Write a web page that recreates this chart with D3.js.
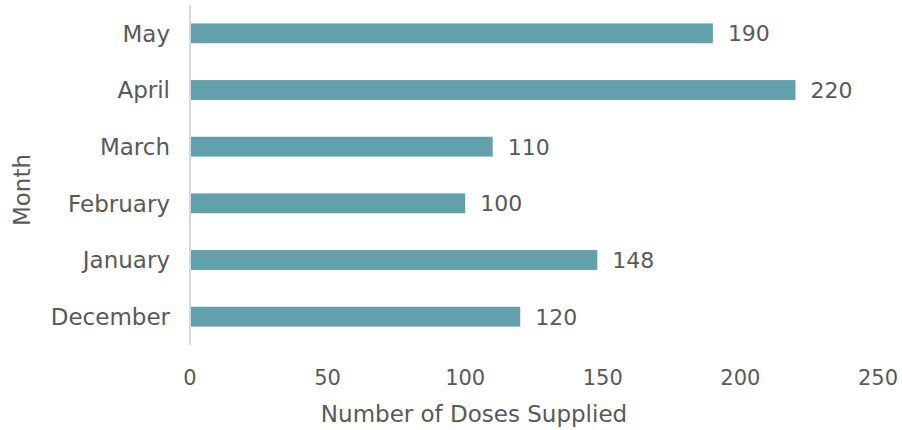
<!DOCTYPE html>
<html><head><meta charset="utf-8">
<script src="https://cdn.jsdelivr.net/npm/d3@7"></script>
<style>body{margin:0;background:#fff}svg{display:block}</style>
</head><body><svg id="c" width="902" height="430"></svg>
<script>
const months = ["December","January","February","March","April","May"];
const doses = [120,148,100,110,220,190];
const xTicks = [0,50,100,150,200,250];

const svg = d3.select("#c");
const font = "'DejaVu Sans', sans-serif";
const col = "#595959";
const x = d3.scaleLinear().domain([0,250]).range([190,878]);
const y = d3.scaleBand().domain(months.slice().reverse()).range([5,345]).paddingInner(0.65).paddingOuter(0.325);

svg.append("line").attr("x1",190).attr("x2",190).attr("y1",5).attr("y2",345)
  .attr("stroke","#d9d9d9").attr("stroke-width",2);

svg.selectAll("rect.bar").data(months).join("rect")
  .attr("x",x(0)+1).attr("y",d=>y(d)).attr("height",y.bandwidth())
  .attr("width",(d,i)=>x(doses[i])-x(0)-1).attr("fill","#62a0ab");

svg.selectAll("text.val").data(months).join("text")
  .attr("x",(d,i)=>x(doses[i])+15).attr("y",d=>y(d)+y.bandwidth()/2).attr("dy","0.36em")
  .attr("font-family",font).attr("font-size",22).attr("fill",col).text((d,i)=>doses[i]);

svg.selectAll("text.cat").data(months).join("text")
  .attr("x",170).attr("y",d=>y(d)+y.bandwidth()/2).attr("dy","0.36em").attr("text-anchor","end")
  .attr("font-family",font).attr("font-size",23).attr("fill",col).text(d=>d);

svg.selectAll("text.tick").data(xTicks).join("text")
  .attr("x",d=>x(d)).attr("y",377).attr("dy","0.36em").attr("text-anchor","middle")
  .attr("font-family",font).attr("font-size",21).attr("fill",col).text(d=>d);

svg.append("text").attr("x",474).attr("y",414).attr("dy","0.36em").attr("text-anchor","middle")
  .attr("font-family",font).attr("font-size",23).attr("fill",col).text("Number of Doses Supplied");

svg.append("text").attr("transform","translate(22,190) rotate(-90)").attr("dy","0.36em").attr("text-anchor","middle")
  .attr("font-family",font).attr("font-size",23).attr("fill",col).text("Month");
</script></body></html>
